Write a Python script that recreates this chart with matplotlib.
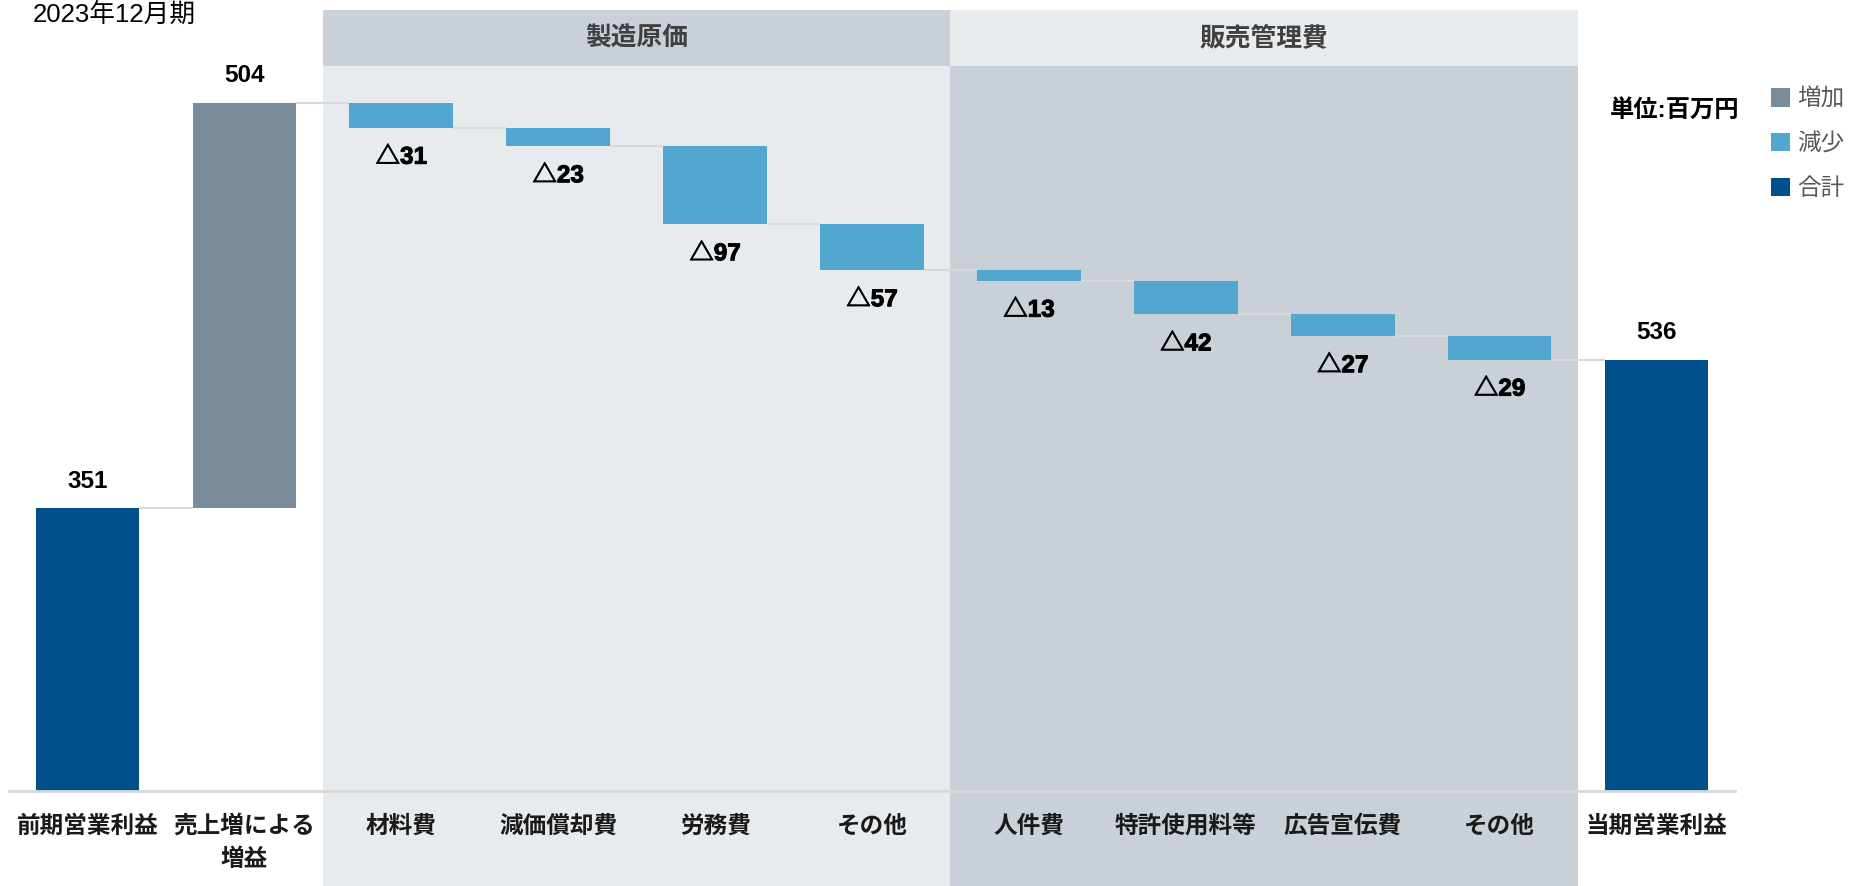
import matplotlib
matplotlib.use("Agg")
import matplotlib.pyplot as plt
import matplotlib.patheffects as pe
from matplotlib.patches import Rectangle, Patch
from matplotlib.transforms import blended_transform_factory

plt.rcParams['font.family'] = ['Liberation Sans', 'Noto Sans CJK JP', 'DejaVu Sans']

# data (百万円)
categories = ['前期営業利益', '売上増による\n増益', '材料費', '減価償却費', '労務費', 'その他',
              '人件費', '特許使用料等', '広告宣伝費', 'その他', '当期営業利益']
prev_profit = 351
increase = 504
decreases = [31, 23, 97, 57, 13, 42, 27, 29]
curr_profit = 536
groups = ['製造原価', '販売管理費']
group_spans = [(2, 5), (6, 9)]
legend_labels = ['増加', '減少', '合計']

C_TOTAL = '#00508C'
C_INC = '#7A8C99'
C_DEC = '#51A7CF'
BG_LIGHT = '#E8EBED'
BG_DARK = '#C9D0D7'
NUM_FONT = ['Liberation Sans', 'Noto Sans CJK JP', 'DejaVu Sans']


def main():
    fig = plt.figure(figsize=(18.54, 8.86), dpi=100)
    ax = fig.add_axes([9 / 1854, 95 / 886, 1726 / 1854, 724.5 / 886])
    ax.set_facecolor('none')
    ax.set_xlim(-0.5, 10.5)
    ax.set_ylim(0, 900)

    # background panels for the two cost groups
    tr = blended_transform_factory(ax.transData, fig.transFigure)
    head_bot = 1 - 66 / 886
    head_top = 1 - 10 / 886
    body_cols = [BG_LIGHT, BG_DARK]
    head_cols = [BG_DARK, BG_LIGHT]
    for (a, b), name, bc, hc in zip(group_spans, groups, body_cols, head_cols):
        x0, x1 = a - 0.5, b + 0.5
        ax.add_patch(Rectangle((x0, 0), x1 - x0, head_bot, transform=tr,
                               facecolor=bc, edgecolor='none', clip_on=False, zorder=0))
        ax.add_patch(Rectangle((x0, head_bot), x1 - x0, head_top - head_bot, transform=tr,
                               facecolor=hc, edgecolor='none', clip_on=False, zorder=0))
        ax.text((x0 + x1) / 2, (head_bot + head_top) / 2, name, transform=tr,
                ha='center', va='center', fontsize=18.5, fontweight='bold', color='#404040')

    # waterfall geometry
    w = 0.66
    bottoms = [0, prev_profit]
    heights = [prev_profit, increase]
    colors = [C_TOTAL, C_INC]
    level = prev_profit + increase
    for d in decreases:
        level -= d
        bottoms.append(level)
        heights.append(d)
        colors.append(C_DEC)
    bottoms.append(0)
    heights.append(curr_profit)
    colors.append(C_TOTAL)
    xs = list(range(len(categories)))

    ax.bar(xs, heights, bottom=bottoms, width=w, color=colors, zorder=3)

    # connectors
    levels = [prev_profit, prev_profit + increase]
    lv = prev_profit + increase
    for d in decreases:
        lv -= d
        levels.append(lv)
    for i in range(len(xs) - 1):
        ax.plot([xs[i] + w / 2, xs[i + 1] - w / 2], [levels[i], levels[i]],
                color='#D9D9D9', lw=1.5, zorder=2, solid_capstyle='butt')

    # value labels
    lab = dict(fontsize=17.5, fontweight='bold', family=NUM_FONT, textcoords='offset points')
    ax.annotate(str(prev_profit), (0, prev_profit), xytext=(0, 11), ha='center', va='bottom', **lab)
    ax.annotate(str(increase), (1, prev_profit + increase), xytext=(0, 11), ha='center', va='bottom', **lab)
    for i, d in enumerate(decreases):
        ax.annotate('△' + str(d), (i + 2, bottoms[i + 2]), xytext=(0, -13),
                    ha='center', va='top',
                    path_effects=[pe.withStroke(linewidth=0.7, foreground='black')], **lab)
    ax.annotate(str(curr_profit), (10, curr_profit), xytext=(0, 11), ha='center', va='bottom', **lab)

    # axes styling
    for s in ['top', 'right', 'left']:
        ax.spines[s].set_visible(False)
    ax.spines['bottom'].set_color('#D9D9D9')
    ax.spines['bottom'].set_linewidth(2)
    ax.spines['bottom'].set_zorder(4)
    ax.set_yticks([])
    ax.set_xticks(xs)
    ax.set_xticklabels(categories, fontsize=17, fontweight='bold', color='#1A1A1A', linespacing=1.6)
    ax.tick_params(axis='x', length=0, pad=17)

    fig.text(33 / 1854, 1 - 15 / 886, '2023年12月期', fontsize=18.5, va='center', ha='left')
    fig.text(1610 / 1854, 1 - 110 / 886, '単位:百万円', fontsize=17.5, va='center', ha='left',
             fontweight='bold')

    handles = [Patch(facecolor=c, edgecolor='none') for c in [C_INC, C_DEC, C_TOTAL]]
    leg = fig.legend(handles, legend_labels, loc='upper left',
                     bbox_to_anchor=(1762 / 1854, 1 - 79 / 886), frameon=False,
                     fontsize=17, handlelength=0.8, handleheight=0.8,
                     handletextpad=0.3, labelspacing=0.95, borderaxespad=0)
    for t in leg.get_texts():
        t.set_color('#595959')

    fig.savefig('out.png', dpi=100)


if __name__ == "__main__":
    main()
